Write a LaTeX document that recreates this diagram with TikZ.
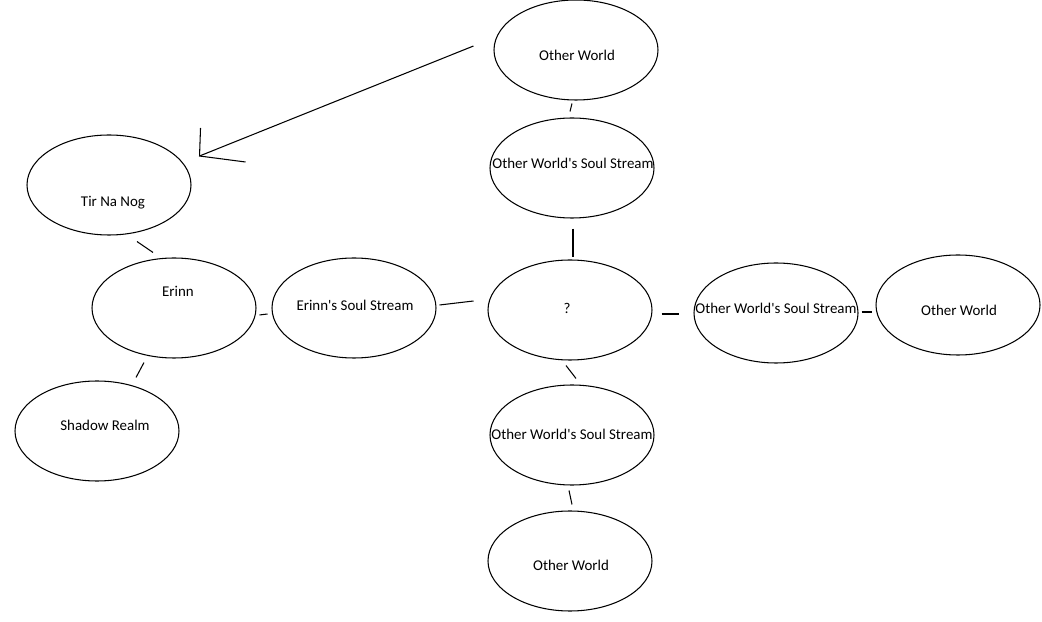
\documentclass[tikz,border=0pt]{standalone}
\usepackage{fontspec}
\setmainfont{Carlito}
\usepackage{tikz}
\usetikzlibrary{shapes.geometric, calc}

\tikzset{
  world/.style={draw, ellipse, line width=0.6pt, inner sep=0pt,
                minimum width=3.28cm, minimum height=2cm},
  wtext/.style={font=\fontsize{8.5}{10}\selectfont, inner sep=0pt},
  link/.style={line width=0.6pt}
}
\newcommand{\sstream}[1]{#1\textquotesingle s Soul Stream}

\begin{document}
\begin{tikzpicture}[x=0.2mm, y=-0.2mm]
  \useasboundingbox (0,0) rectangle (1042,622);

  % ── Mondes ──
  \node[world, label={[wtext, shift={(1,5)}]center:Other World}] (owtop) at (576,50) {};
  \node[world, label={[wtext, shift={(1,-5)}]center:\sstream{Other World}}] (sstop) at (572,168) {};
  \node[world, label={[wtext, shift={(4,18)}]center:Tir Na Nog}] (tir) at (109,185) {};
  \node[world, label={[wtext, shift={(4,-17)}]center:Erinn}] (erinn) at (174,308) {};
  \node[world, label={[wtext, shift={(1,-3)}]center:\sstream{Erinn}}] (erss) at (354,308) {};
  \node[world, label={[wtext, shift={(-3,-2)}]center:?}] (hub) at (570,310) {};
  \node[world, label={[wtext, shift={(0,-5)}]center:\sstream{Other World}}] (ssright) at (776,313) {};
  \node[world, label={[wtext, shift={(1,5)}]center:Other World}] (owright) at (958,305) {};
  \node[world, label={[wtext, shift={(8,-6)}]center:Shadow Realm}] (shadow) at (97,431) {};
  \node[world, label={[wtext, shift={(0,-1)}]center:\sstream{Other World}}] (ssbot) at (572,435) {};
  \node[world, label={[wtext, shift={(1,4)}]center:Other World}] (owbot) at (570,561) {};

  % ── Liaisons ──
  \draw[link] ([shift={(-4,3)}]owtop.south) -- ([shift={(-2,-6)}]sstop.north);
  \draw[link] ([shift={(1,10)}]sstop.south) -- ([shift={(3,-2)}]hub.north);
  \draw[link] ([shift={(28,6)}]tir.south) -- ([shift={(-21,-5)}]erinn.north);
  \draw[link] ([shift={(-30,4)}]erinn.south) -- ([shift={(39,-3)}]shadow.north);
  \draw[link] ([shift={(3,7)}]erinn.east) -- ([shift={(-4,6)}]erss.west);
  \draw[link] ([shift={(3,-3)}]erss.east) -- ([shift={(-14,-9)}]hub.west);
  \draw[link] ([shift={(9,4)}]hub.east) -- ([shift={(-14,1)}]ssright.west);
  \draw[link] ([shift={(3,-1)}]ssright.east) -- ([shift={(-3,7)}]owright.west);
  \draw[link] ([shift={(-4,5)}]hub.south) -- ([shift={(4,-6)}]ssbot.north);
  \draw[link] ([shift={(-3,5)}]ssbot.south) -- ([shift={(2,-6)}]owbot.north);

  % ── Flèche vers Tir Na Nog ──
  \coordinate (tail) at ([shift={(-20,-4)}]owtop.west);
  \coordinate (tip) at ([shift={(8,-29)}]tir.east);
  \draw[link] (tail) -- (tip);
  \draw[link] ([shift={(1,-28)}]tip) -- (tip) -- ([shift={(46,6)}]tip);

\end{tikzpicture}
\end{document}
